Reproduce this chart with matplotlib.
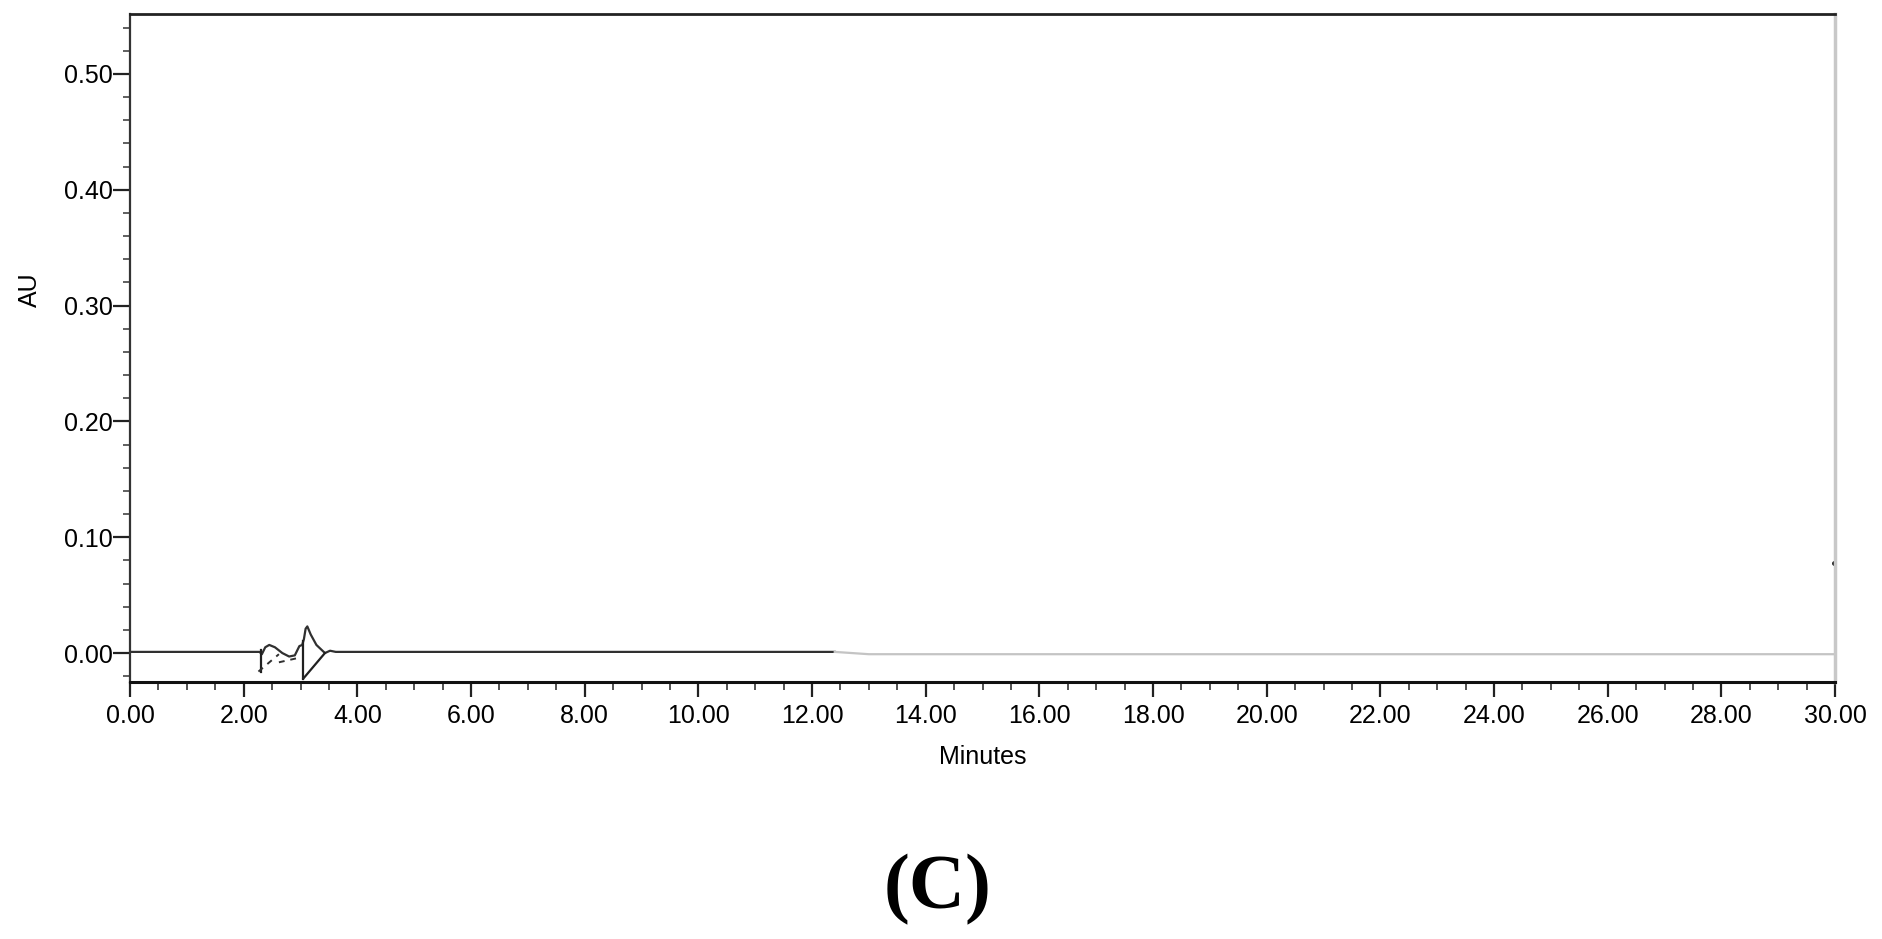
import matplotlib
matplotlib.use("Agg")
import matplotlib.pyplot as plt
from matplotlib.ticker import MultipleLocator, FormatStrFormatter

# --- data ---
trace_time = [0.00, 2.28, 2.32, 2.38, 2.45, 2.55, 2.68, 2.80, 2.90, 2.98, 3.03, 3.06,
              3.09, 3.12, 3.18, 3.28, 3.43, 3.52, 3.62, 3.75, 6.00, 9.00, 12.40]
trace_au = [0.001, 0.001, -0.001, 0.005, 0.007, 0.005, 0.000, -0.003, -0.002, 0.006, 0.007,
            0.012, 0.021, 0.023, 0.016, 0.007, 0.000, 0.002, 0.001, 0.001, 0.001, 0.001, 0.001]
tail_time = [12.40, 13.00, 18.00, 24.00, 30.00]
tail_au = [0.001, -0.001, -0.001, -0.001, -0.001]

# integration markers
mark1_time = [2.30, 2.30]
mark1_au = [-0.016, 0.003]
mark2_time = [3.05, 3.05]
mark2_au = [-0.022, 0.010]
drop_time = [3.05, 3.43]
drop_au = [-0.022, 0.000]
base1_time = [2.26, 2.62]
base1_au = [-0.016, -0.001]
base2_time = [2.62, 2.98]
base2_au = [-0.008, -0.004]
end_dot_time = [29.98]
end_dot_au = [0.078]

x_ticks = [0, 2, 4, 6, 8, 10, 12, 14, 16, 18, 20, 22, 24, 26, 28, 30]
y_ticks = [0.0, 0.1, 0.2, 0.3, 0.4, 0.5]

plt.rcParams['font.family'] = ['Liberation Sans', 'DejaVu Sans']

fig = plt.figure(figsize=(18.82, 9.39), dpi=100)
ax = fig.add_axes([130/1882, 1-682/939, (1835-130)/1882, (682-14)/939])

ax.plot(trace_time, trace_au, color='#303030', lw=1.6)
ax.plot(tail_time, tail_au, color='#c4c4c4', lw=1.6)
ax.plot(mark1_time, mark1_au, color='#202020', lw=1.6)
ax.plot(mark2_time, mark2_au, color='#202020', lw=1.6)
ax.plot(drop_time, drop_au, color='#202020', lw=1.6)
ax.plot(base1_time, base1_au, color='#303030', lw=1.4, ls=(0, (3, 3)))
ax.plot(base2_time, base2_au, color='#303030', lw=1.4, ls=(0, (3, 3)))
ax.plot(end_dot_time, end_dot_au, 'o', color='#202020', ms=2.5)

ax.set_xlim(0, 30)
ax.set_ylim(-0.025, 0.5518)
ax.set_xticks(x_ticks)
ax.set_yticks(y_ticks)
ax.xaxis.set_minor_locator(MultipleLocator(0.5))
ax.yaxis.set_minor_locator(MultipleLocator(0.02))
ax.xaxis.set_major_formatter(FormatStrFormatter('%.2f'))
ax.yaxis.set_major_formatter(FormatStrFormatter('%.2f'))

ax.tick_params(axis='y', which='major', direction='out', length=12, width=1.6,
               color='#222222', labelsize=18, pad=0.5)
ax.tick_params(axis='y', which='minor', direction='out', length=5, width=1.2, color='#444444')
ax.tick_params(axis='x', which='major', direction='out', length=11, width=1.6,
               color='#222222', labelsize=18, pad=5)
ax.tick_params(axis='x', which='minor', direction='out', length=6, width=1.2, color='#333333')

ax.spines['top'].set_color('#222222')
ax.spines['top'].set_linewidth(2.0)
ax.spines['left'].set_color('#333333')
ax.spines['left'].set_linewidth(1.6)
ax.spines['bottom'].set_color('#111111')
ax.spines['bottom'].set_linewidth(2.2)
ax.spines['right'].set_color('#c8c8c8')
ax.spines['right'].set_linewidth(2.5)

fig.text(983/1882, 1-757/939, 'Minutes', ha='center', va='center', fontsize=18)
fig.text(30/1882, 1-290/939, 'AU', ha='center', va='center', fontsize=18, rotation=90)
fig.text(938/1882, 1-890/939, '(C)', ha='center', va='center', fontsize=56,
         fontweight='bold', family=['Liberation Serif', 'DejaVu Serif'])

fig.savefig('out.png', dpi=100)
